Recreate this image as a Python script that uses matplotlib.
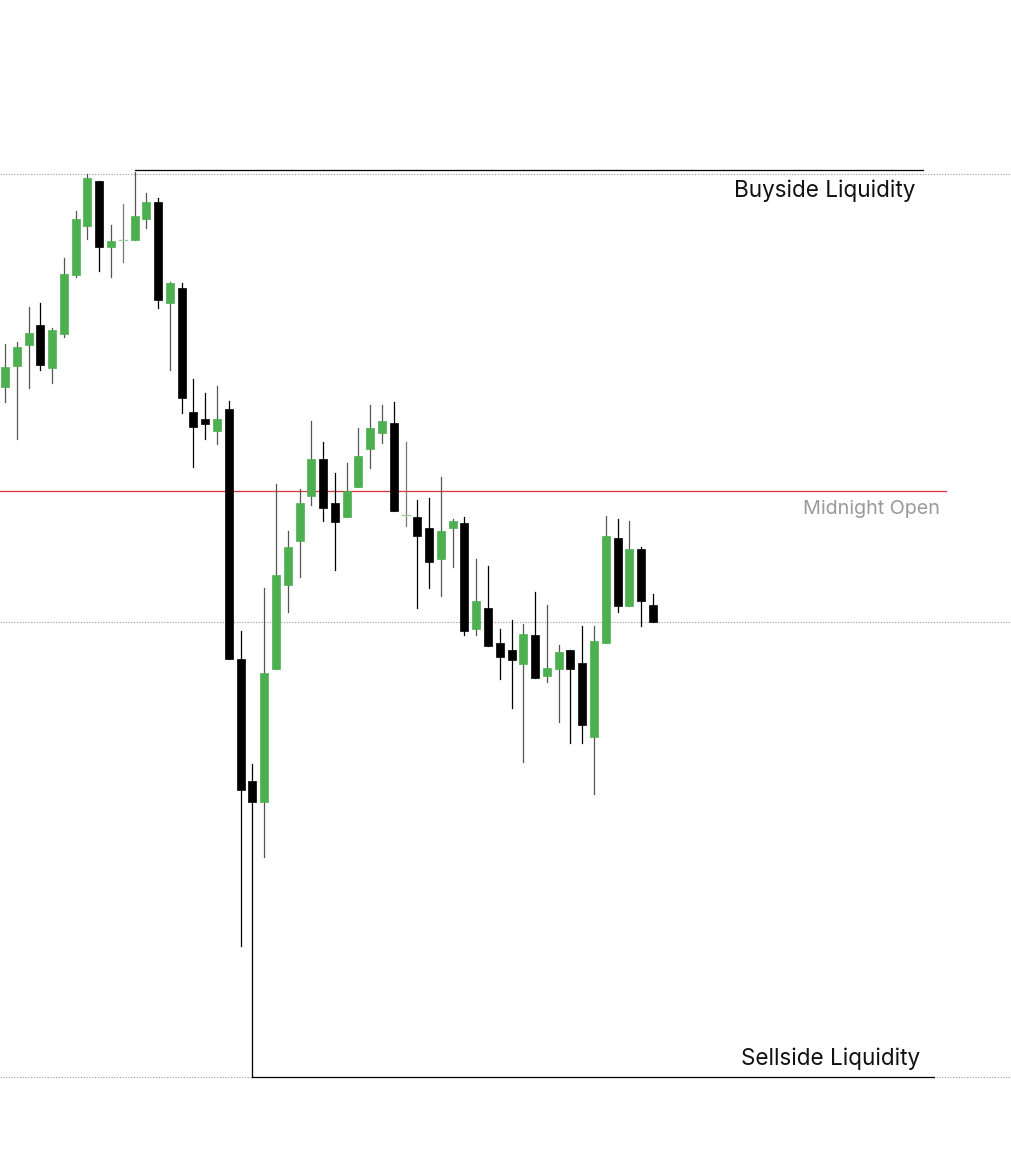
import matplotlib
matplotlib.use("Agg")
import matplotlib.pyplot as plt
from matplotlib.patches import Rectangle

# OHLC values (arbitrary price units)
opens  = [788, 809, 830, 850, 807, 841, 900, 949, 994, 928, 935, 935, 956, 973, 872, 887, 763, 756, 744, 766,
          516, 394, 373, 506, 590, 634, 679, 716, 672, 658, 688, 726, 742, 752, 660, 658, 647, 616, 647, 652,
          546, 567, 532, 525, 511, 540, 499, 506, 525, 512, 438, 532, 637, 569, 626, 570]
highs  = [831, 833, 868, 872, 847, 917, 964, 1001, 994, 950, 971, 1003, 982, 977, 893, 892, 796, 782, 789, 774,
          544, 411, 587, 691, 644, 686, 754, 733, 702, 712, 747, 770, 770, 773, 733, 675, 677, 698, 656, 658,
          616, 609, 546, 555, 551, 583, 570, 530, 525, 549, 549, 659, 656, 654, 628, 581]
lows   = [773, 736, 787, 805, 792, 838, 898, 936, 904, 898, 913, 935, 947, 867, 805, 762, 708, 736, 731, 516,
          229, 98, 318, 506, 563, 598, 670, 654, 605, 658, 688, 707, 732, 664, 649, 567, 587, 579, 608, 540,
          540, 529, 496, 467, 413, 497, 493, 453, 432, 432, 381, 532, 563, 569, 549, 553]
closes = [808, 828, 842, 810, 845, 901, 956, 997, 928, 934, 935, 959, 973, 875, 892, 777, 748, 751, 756, 516,
          385, 373, 502, 600, 628, 672, 716, 667, 653, 684, 719, 747, 754, 664, 660, 639, 613, 644, 654, 544,
          574, 529, 518, 515, 541, 497, 507, 523, 506, 450, 534, 639, 569, 626, 574, 553]

# Key levels
buyside_level = 1005
buyside_dotted = 1001
midnight_open = 684
mid_dotted = 553
sellside_level = 98

labels = ["Buyside Liquidity", "Midnight Open", "Sellside Liquidity"]

GREEN = "#4caf50"
DOJI = "#9ccf9e"

fig = plt.figure(figsize=(10.12, 11.75), dpi=100)
ax = fig.add_axes([0, 0, 1, 1])
ax.set_xlim(-0.424, 85.48)
ax.set_ylim(0, 1175)
ax.axis("off")

# dotted guide lines
for lvl in (buyside_dotted, mid_dotted, sellside_level):
    ax.axhline(lvl, color="#9a9a9a", linestyle=(0, (1, 1.5)), linewidth=0.8, zorder=1)

# solid liquidity / open lines
ax.plot([11, 77.9], [buyside_level, buyside_level], color="black", linewidth=0.9, zorder=2)
ax.plot([21, 78.9], [sellside_level, sellside_level], color="black", linewidth=0.9, zorder=2)
ax.plot([-0.5, 79.9], [midnight_open, midnight_open], color="#e8303c", linewidth=0.9, zorder=2)

bw = 0.68
for i, (o, h, l, c) in enumerate(zip(opens, highs, lows, closes)):
    if c > o:
        col, wcol = GREEN, "#555555"
    elif c < o:
        col, wcol = "black", "black"
    else:
        col, wcol = DOJI, "#777777"
    ax.plot([i, i], [l, h], color=wcol, linewidth=0.9, zorder=3)
    if c == o:
        ax.plot([i - bw / 2, i + bw / 2], [o, o], color=col, linewidth=1.0, zorder=4)
    else:
        ax.add_patch(Rectangle((i - bw / 2, min(o, c)), bw, abs(c - o),
                               facecolor=col, edgecolor=col, linewidth=0.5, zorder=4))

font = ["Inter", "DejaVu Sans"]
ax.text(77.25, 984, labels[0], ha="right", va="center", fontsize=16.2, color="#111111", family=font)
ax.text(79.4, 666, labels[1], ha="right", va="center", fontsize=14.2, color="#9a9a9a", family=font)
ax.text(77.7, 116, labels[2], ha="right", va="center", fontsize=16.2, color="#111111", family=font)

fig.savefig("out.png", dpi=100, facecolor="white")
